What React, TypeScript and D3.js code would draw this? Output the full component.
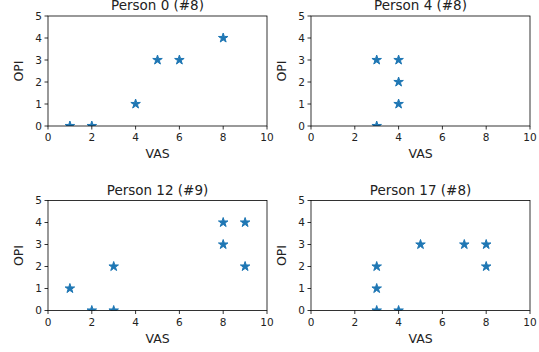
import React from 'react';
import * as d3 from 'd3';

// visible points for each person (VAS, OPI)
const titles = ['Person 0 (#8)', 'Person 4 (#8)', 'Person 12 (#9)', 'Person 17 (#8)'];
const vas0 = [1, 2, 4, 5, 6, 8];
const opi0 = [0, 0, 1, 3, 3, 4];
const vas4 = [3, 4, 4, 4, 3];
const opi4 = [3, 3, 2, 1, 0];
const vas12 = [1, 2, 3, 3, 8, 8, 9, 9];
const opi12 = [1, 0, 0, 2, 4, 3, 4, 2];
const vas17 = [3, 3, 3, 4, 5, 7, 8, 8];
const opi17 = [0, 1, 2, 0, 3, 3, 3, 2];
const xTicks = [0, 2, 4, 6, 8, 10];
const yTicks = [0, 1, 2, 3, 4, 5];

const W = 539;
const H = 352;
const blue = '#1f77b4';

const panels = [
  { title: titles[0], xs: vas0, ys: opi0, left: 48, top: 16 },
  { title: titles[1], xs: vas4, ys: opi4, left: 311, top: 16 },
  { title: titles[2], xs: vas12, ys: opi12, left: 48, top: 200.5 },
  { title: titles[3], xs: vas17, ys: opi17, left: 311, top: 200.5 },
];
const pw = 219;
const ph = 110;

const star = d3.symbol(d3.symbolStar, 28)();

const Panel = ({ p, i }: { p: any; i: number }) => {
  const x = d3.scaleLinear().domain([0, 10]).range([0, pw]);
  const y = d3.scaleLinear().domain([0, 5]).range([ph, 0]);
  const font = 'DejaVu Sans, sans-serif';
  return (
    <g transform={`translate(${p.left},${p.top})`}>
      <defs>
        <clipPath id={`clip${i}`}>
          <rect x={0} y={0} width={pw} height={ph} />
        </clipPath>
      </defs>
      <g clipPath={`url(#clip${i})`}>
        {p.xs.map((v: number, j: number) => (
          <path
            key={j}
            d={star || ''}
            transform={`translate(${x(v)},${y(p.ys[j])})`}
            fill={blue}
            stroke={blue}
            strokeWidth={1}
          />
        ))}
      </g>
      <rect x={0} y={0} width={pw} height={ph} fill="none" stroke="#000" strokeWidth={0.8} />
      {xTicks.map(t => (
        <g key={'x' + t} transform={`translate(${x(t)},${ph})`}>
          <line y2={3.5} stroke="#000" strokeWidth={0.8} />
          <text y={15} textAnchor="middle" fontSize={10.5} fontFamily={font} fill="#222">
            {t}
          </text>
        </g>
      ))}
      {yTicks.map(t => (
        <g key={'y' + t} transform={`translate(0,${y(t)})`}>
          <line x2={-3.5} stroke="#000" strokeWidth={0.8} />
          <text x={-6} dy="0.36em" textAnchor="end" fontSize={10.5} fontFamily={font} fill="#222">
            {t}
          </text>
        </g>
      ))}
      <text x={pw / 2} y={ph + 32} textAnchor="middle" fontSize={12.5} fontFamily={font} fill="#222">
        VAS
      </text>
      <text
        transform={`translate(-25,${ph / 2}) rotate(-90)`}
        textAnchor="middle"
        fontSize={12.5}
        fontFamily={font}
        fill="#222"
      >
        OPI
      </text>
      <text x={pw / 2} y={-6} textAnchor="middle" fontSize={13.5} fontFamily={font} fill="#222">
        {p.title}
      </text>
    </g>
  );
};

export default function App() {
  return (
    <div style={{ position: 'fixed', left: 0, top: 0 }}>
      <svg width={W} height={H} style={{ display: 'block', background: '#fff' }}>
        {panels.map((p, i) => (
          <Panel key={i} p={p} i={i} />
        ))}
      </svg>
    </div>
  );
}
